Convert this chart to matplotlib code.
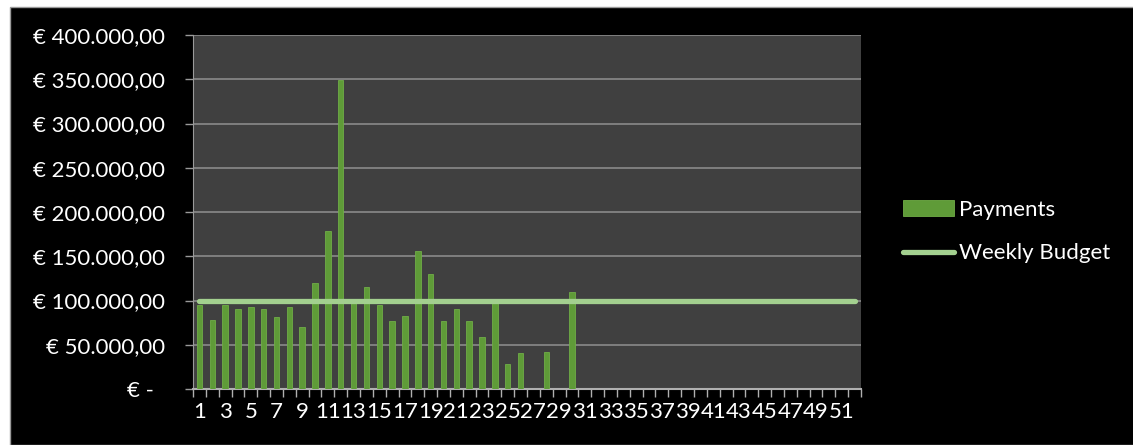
import matplotlib.pyplot as plt
from matplotlib.patches import Rectangle
from matplotlib.ticker import FuncFormatter

weeks = list(range(1, 53))
payments = [94.6, 78.5, 94.6, 90.9, 92.7, 90.9, 80.8, 92.7, 70.2, 119.8,
            178.4, 349.0, 98.4, 115.3, 94.6, 76.6, 82.6, 155.8, 129.6, 76.6,
            90.9, 76.6, 58.2, 98.4, 27.8, 40.2, 0, 42.0, 0, 109.7] + [0] * 22
payments = [p * 1000 for p in payments]
weekly_budget = [100000] * 52

plt.rcParams['font.family'] = ['Lato', 'DejaVu Sans']

fig = plt.figure(figsize=(11.33, 4.45), dpi=100, facecolor='white')
# black chart background with a thin white margin on the top and left
bg = Rectangle((10 / 1133, 0), 1, 1 - 7 / 445, transform=fig.transFigure,
               facecolor='black', edgecolor='#9a9a9a', linewidth=1, zorder=-10)
fig.patches.append(bg)

ax = fig.add_axes([193 / 1133, 1 - 389 / 445, (861 - 193) / 1133, (389 - 35) / 445])
ax.set_facecolor('#404040')

bars = ax.bar(weeks, payments, width=0.42, color='#5f9b38', edgecolor='#70ad47', linewidth=0.6,
              label='Payments', zorder=3)
line, = ax.plot(weeks, weekly_budget, color='#a3d08f', linewidth=3.8, solid_capstyle='round',
                label='Weekly Budget', zorder=4)


def euro(v, _):
    if v == 0:
        return '€ -  '
    return '€ ' + f'{v:,.2f}'.replace(',', '#').replace('.', ',').replace('#', '.')


ax.set_xlim(0.5, 52.5)
ax.set_ylim(0, 400000)
ax.set_yticks(range(0, 400001, 50000))
ax.yaxis.set_major_formatter(FuncFormatter(euro))
ax.grid(axis='y', color='#8a8a8a', linewidth=1.2, zorder=1)

ax.set_xticks(weeks[::2])
ax.set_xticklabels([str(w) for w in weeks[::2]])
ax.set_xticks([w + 0.5 for w in range(0, 53)], minor=True)
ax.tick_params(axis='x', which='major', length=0, pad=9, labelsize=16, colors='white')
ax.tick_params(axis='x', which='minor', length=6, width=1, color='#b0b0b0', direction='out')
ax.tick_params(axis='y', length=6, width=1, color='#9a9a9a', labelsize=16, labelcolor='white', pad=14)

for side in ['top', 'right']:
    ax.spines[side].set_visible(False)
ax.spines['left'].set_color('#9a9a9a')
ax.spines['bottom'].set_color('#b0b0b0')
ax.spines['bottom'].set_linewidth(1.5)

fig.legend([bars, line], ['Payments', 'Weekly Budget'], loc='upper left',
           bbox_to_anchor=(883 / 1133, 1 - 180 / 445), frameon=False,
           fontsize=16, labelcolor='white', handlelength=2.3, handletextpad=0.2,
           labelspacing=1.05)

fig.savefig('out.png', dpi=100, facecolor=fig.get_facecolor())
